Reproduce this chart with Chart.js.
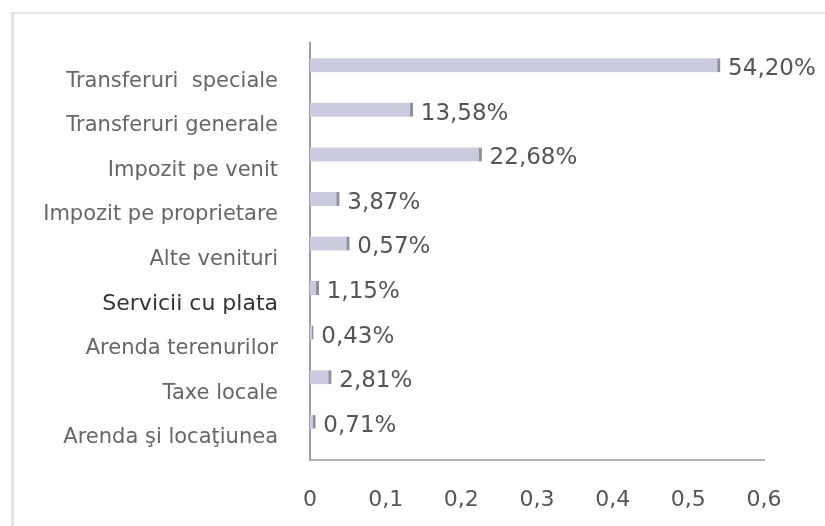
<!DOCTYPE html>
<html>
<head>
<meta charset="utf-8">
<script src="https://cdn.jsdelivr.net/npm/chart.js@4/dist/chart.umd.min.js"></script>
<style>
    body { margin: 0; background: #fff; }
    #wrap { position: relative; width: 825px; height: 526px; }
    #frame { position: absolute; left: 11px; top: 12px; right: 0; bottom: 0;
             border-left: 3px solid #e2e2e2; border-top: 2px solid #e6e6e6; }
    canvas { position: absolute; left: 0; top: 0; }
</style>
</head>
<body>
<div id="wrap">
    <div id="frame"></div>
    <canvas id="venituri" width="825" height="526"></canvas>
</div>
<script>
const categories = [
    'Transferuri  speciale',
    'Transferuri generale',
    'Impozit pe venit',
    'Impozit pe proprietare',
    'Alte venituri',
    'Servicii cu plata',
    'Arenda terenurilor',
    'Taxe locale',
    'Arenda şi locaţiunea'
];
// bar lengths as drawn in the picture
const shares = [0.542, 0.1358, 0.2268, 0.0387, 0.052, 0.0115, 0.0043, 0.0281, 0.0071];
// value labels printed next to the bars
const shareLabels = ['54,20%', '13,58%', '22,68%', '3,87%', '0,57%', '1,15%', '0,43%', '2,81%', '0,71%'];
const xTicks = ['0', '0,1', '0,2', '0,3', '0,4', '0,5', '0,6'];

const ctx = document.getElementById('venituri').getContext('2d');

const isBold = c => c && c.tick && categories[c.tick.value] === 'Servicii cu plata';

// write the percent label right after each bar
const barLabels = {
    id: 'barLabels',
    afterDatasetsDraw(chart) {
        const c = chart.ctx;
        const meta = chart.getDatasetMeta(0);
        c.save();
        c.font = '23px "DejaVu Sans"';
        c.fillStyle = '#555';
        c.textAlign = 'left';
        c.textBaseline = 'middle';
        meta.data.forEach((bar, i) => {
            c.fillText(shareLabels[i], bar.x + 8, bar.y + 4);
        });
        c.restore();
    }
};

new Chart(ctx, {
    type: 'bar',
    data: {
        datasets: [{
            data: shares.map((v, i) => ({ x: v, y: i })),
            backgroundColor: '#cbcbdf',
            borderColor: '#8f8f9c',
            borderWidth: { right: 3, left: 0, top: 0, bottom: 0 },
            borderSkipped: false,
            barThickness: 14
        }]
    },
    options: {
        responsive: false,
        animation: false,
        indexAxis: 'y',
        layout: { padding: { top: 43, right: 61, bottom: 0, left: 0 } },
        plugins: {
            legend: { display: false },
            tooltip: { enabled: false }
        },
        scales: {
            x: {
                type: 'linear',
                min: 0,
                max: 0.6,
                grid: { display: false },
                border: { color: '#b5b5b5', width: 2 },
                ticks: {
                    stepSize: 0.1,
                    padding: 19,
                    color: '#555',
                    font: { family: 'DejaVu Sans', size: 22 },
                    callback: (v, i) => xTicks[i]
                },
                afterFit: s => { s.height = 66; }
            },
            y: {
                type: 'linear',
                reverse: true,
                offset: false,
                min: -0.5,
                max: 8.86,
                grid: { display: false },
                border: { color: '#9e9e9e', width: 2 },
                ticks: {
                    stepSize: 1,
                    includeBounds: false,
                    padding: 24,
                    labelOffset: 16,
                    color: c => isBold(c) ? '#333' : '#666',
                    font: c => isBold(c)
                        ? { family: 'DejaVu Sans', size: 22 }
                        : { family: 'DejaVu Sans', size: 21 },
                    callback: v => categories[v] ?? ''
                },
                afterFit: s => { s.width = 310; }
            }
        }
    },
    plugins: [barLabels]
});
</script>
</body>
</html>
